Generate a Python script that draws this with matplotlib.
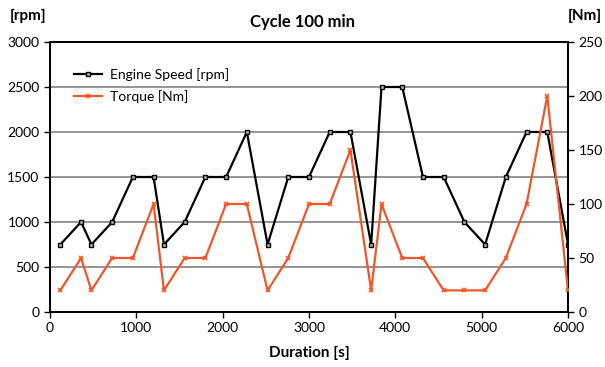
import matplotlib
matplotlib.use("Agg")
import matplotlib.pyplot as plt

time_s = [120, 360, 480, 720, 960, 1200, 1320, 1560, 1800, 2040, 2280, 2520, 2760, 3000,
          3240, 3480, 3720, 3840, 4080, 4320, 4560, 4800, 5040, 5280, 5520, 5760, 6000]
engine_speed = [750, 1000, 750, 1000, 1500, 1500, 750, 1000, 1500, 1500, 2000, 750, 1500, 1500,
                2000, 2000, 750, 2500, 2500, 1500, 1500, 1000, 750, 1500, 2000, 2000, 750]
torque = [20, 50, 20, 50, 50, 100, 20, 50, 50, 100, 100, 20, 50, 100,
          100, 150, 20, 100, 50, 50, 20, 20, 20, 50, 100, 200, 20]

x_ticks = [0, 1000, 2000, 3000, 4000, 5000, 6000]
rpm_ticks = [0, 500, 1000, 1500, 2000, 2500, 3000]
nm_ticks = [0, 50, 100, 150, 200, 250]

plt.rcParams['font.family'] = ['Lato', 'DejaVu Sans']
ORANGE = '#F0562A'

fig = plt.figure(figsize=(6.05, 3.67), dpi=100)
ax = fig.add_axes([50/605, (367-312)/367, (568-50)/605, (312-42)/367])
ax2 = ax.twinx()

for y in rpm_ticks[1:-1]:
    ax.axhline(y, color='#8c8c8c', lw=1.3, zorder=0)

l1, = ax.plot(time_s, engine_speed, color='black', lw=1.6, marker='s', ms=3.2,
              mfc='#b0b0b0', mec='black', mew=1.0, label='Engine Speed [rpm]', zorder=3)
l2, = ax2.plot(time_s, torque, color=ORANGE, lw=1.6, marker='x', ms=3.5,
               mec=ORANGE, mew=1.2, label='Torque [Nm]', zorder=3)

ax.set_xlim(0, 6000)
ax.set_ylim(0, 3000)
ax2.set_ylim(0, 250)
ax.set_xticks(x_ticks)
ax.set_yticks(rpm_ticks)
ax2.set_yticks(nm_ticks)

for a in (ax, ax2):
    a.tick_params(direction='out', length=4, width=1, labelsize=10, colors='black')
    for s in a.spines.values():
        s.set_linewidth(1.3)
        s.set_color('black')

ax.set_xlabel('Duration [s]', fontsize=11, fontweight='bold', labelpad=8)
fig.text(303/605, 1-22/367, 'Cycle 100 min', ha='center', va='center', fontsize=12, fontweight='bold')
fig.text(28/605, 1-16/367, '[rpm]', ha='center', va='center', fontsize=11, fontweight='bold')
fig.text(585/605, 1-16/367, '[Nm]', ha='center', va='center', fontsize=11, fontweight='bold')

ax.legend([l1, l2], ['Engine Speed [rpm]', 'Torque [Nm]'], loc='upper left',
          bbox_to_anchor=(0.022, 0.95), frameon=False, fontsize=10, handlelength=2.0,
          handletextpad=0.6, labelspacing=0.65)

fig.savefig('out.png', dpi=100)
